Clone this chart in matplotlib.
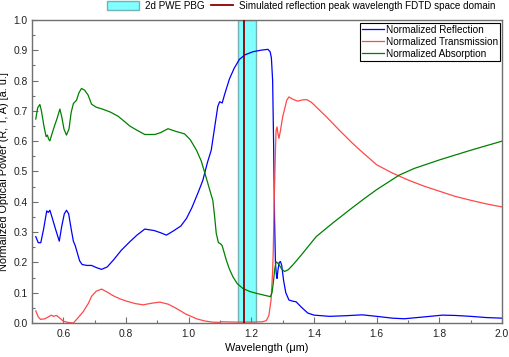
import matplotlib
matplotlib.use("Agg")
import matplotlib.pyplot as plt
from matplotlib.patches import Patch
from matplotlib.lines import Line2D
from matplotlib.legend_handler import HandlerLine2D
from matplotlib.ticker import MultipleLocator

plt.rcParams['font.family'] = ['Liberation Sans', 'DejaVu Sans']

# Reflection
wl_r = [0.512, 0.52, 0.528, 0.537, 0.547, 0.552, 0.557, 0.565, 0.575, 0.587, 0.595, 0.603, 0.61, 0.617,
        0.625, 0.632, 0.638, 0.645, 0.652, 0.66, 0.675, 0.69, 0.705, 0.722, 0.74, 0.76, 0.785, 0.812,
        0.835, 0.86, 0.89, 0.91, 0.929, 0.95, 0.975, 0.993, 1.01, 1.03, 1.045, 1.06, 1.072, 1.085,
        1.093, 1.099, 1.107, 1.115, 1.13, 1.145, 1.162, 1.18, 1.205, 1.23, 1.253, 1.26, 1.264, 1.268,
        1.271, 1.274, 1.277, 1.28, 1.282, 1.285, 1.289, 1.293, 1.297, 1.303, 1.31, 1.32, 1.332, 1.343,
        1.36, 1.38, 1.4, 1.45, 1.5, 1.554, 1.6, 1.65, 1.688, 1.75, 1.81, 1.85, 1.9, 1.95, 2.0]
refl = [0.285, 0.265, 0.265, 0.31, 0.37, 0.365, 0.372, 0.345, 0.31, 0.27, 0.32, 0.36, 0.372, 0.36,
        0.31, 0.27, 0.255, 0.23, 0.205, 0.193, 0.19, 0.19, 0.183, 0.177, 0.185, 0.208, 0.24, 0.268,
        0.29, 0.31, 0.305, 0.298, 0.29, 0.303, 0.32, 0.345, 0.38, 0.43, 0.47, 0.53, 0.57, 0.66,
        0.715, 0.73, 0.726, 0.755, 0.805, 0.84, 0.87, 0.885, 0.895, 0.9, 0.903, 0.895, 0.875, 0.8,
        0.6, 0.35, 0.197, 0.16, 0.147, 0.175, 0.2, 0.203, 0.19, 0.14, 0.1, 0.076, 0.072, 0.07,
        0.052, 0.033, 0.026, 0.022, 0.024, 0.027, 0.022, 0.016, 0.014, 0.02, 0.026, 0.025, 0.022, 0.018, 0.016]

# Transmission
wl_t = [0.512, 0.52, 0.527, 0.541, 0.552, 0.562, 0.568, 0.578, 0.59, 0.6, 0.615, 0.632, 0.645, 0.663,
        0.68, 0.69, 0.705, 0.722, 0.74, 0.759, 0.78, 0.802, 0.83, 0.855, 0.88, 0.908, 0.935, 0.961,
        0.99, 1.025, 1.05, 1.075, 1.1, 1.105, 1.15, 1.2, 1.235, 1.248, 1.256, 1.263, 1.268, 1.27,
        1.273, 1.277, 1.279, 1.282, 1.285, 1.288, 1.293, 1.3, 1.306, 1.313, 1.32, 1.333, 1.348, 1.362,
        1.377, 1.392, 1.407, 1.44, 1.481, 1.52, 1.545, 1.6, 1.65, 1.7, 1.75, 1.8, 1.85, 1.9, 1.95, 2.0]
trans = [0.04, 0.02, 0.012, 0.014, 0.02, 0.026, 0.022, 0.025, 0.015, 0.006, 0.002, 0.0, 0.015, 0.037,
         0.065, 0.088, 0.105, 0.112, 0.102, 0.09, 0.08, 0.072, 0.064, 0.06, 0.065, 0.069, 0.062, 0.048,
         0.03, 0.014, 0.007, 0.003, 0.002, 0.004, 0.003, 0.003, 0.004, 0.008, 0.025, 0.076, 0.17, 0.24,
         0.4, 0.57, 0.635, 0.647, 0.625, 0.609, 0.635, 0.68, 0.705, 0.735, 0.746, 0.738, 0.732, 0.736,
         0.737, 0.728, 0.713, 0.68, 0.636, 0.596, 0.572, 0.522, 0.495, 0.472, 0.452, 0.435, 0.418, 0.405, 0.393, 0.383]

# Absorption
wl_a = [0.512, 0.518, 0.525, 0.53, 0.538, 0.545, 0.549, 0.553, 0.557, 0.564, 0.571, 0.58, 0.589, 0.595,
        0.602, 0.61, 0.618, 0.625, 0.632, 0.642, 0.65, 0.658, 0.668, 0.679, 0.69, 0.705, 0.727, 0.75,
        0.775, 0.795, 0.812, 0.835, 0.86, 0.892, 0.91, 0.934, 0.96, 0.987, 1.005, 1.025, 1.04, 1.051,
        1.067, 1.077, 1.083, 1.088, 1.095, 1.099, 1.103, 1.107, 1.12, 1.13, 1.141, 1.155, 1.173, 1.195,
        1.216, 1.24, 1.261, 1.266, 1.27, 1.275, 1.279, 1.284, 1.29, 1.297, 1.306, 1.318, 1.332, 1.36,
        1.407, 1.46, 1.513, 1.56, 1.6, 1.672, 1.72, 1.8, 1.9, 2.0]
absor = [0.673, 0.71, 0.721, 0.7, 0.65, 0.615, 0.62, 0.607, 0.601, 0.625, 0.648, 0.675, 0.706, 0.68,
         0.64, 0.62, 0.64, 0.695, 0.724, 0.735, 0.76, 0.774, 0.768, 0.752, 0.722, 0.712, 0.705, 0.696,
         0.682, 0.665, 0.65, 0.636, 0.622, 0.622, 0.628, 0.641, 0.632, 0.624, 0.605, 0.57, 0.535, 0.497,
         0.44, 0.405, 0.35, 0.296, 0.265, 0.263, 0.26, 0.255, 0.208, 0.178, 0.153, 0.13, 0.114, 0.104,
         0.098, 0.092, 0.087, 0.1, 0.131, 0.18, 0.202, 0.198, 0.19, 0.178, 0.17, 0.176, 0.191, 0.225,
         0.285, 0.33, 0.373, 0.41, 0.44, 0.488, 0.51, 0.538, 0.57, 0.6]

pbg_band = [1.157, 1.2155]
peak_wl = 1.176


class ShortLineHandler(HandlerLine2D):
    def create_artists(self, legend, orig_handle, xdescent, ydescent, width, height, fontsize, trans):
        s = width * 0.31
        return super().create_artists(legend, orig_handle, xdescent - s, ydescent, width - s,
                                       height, fontsize, trans)


fig = plt.figure(figsize=(5.09, 3.57), dpi=100)
ax = fig.add_axes([0.0629, 0.0952, 0.9233, 0.849])

ax.axvspan(pbg_band[0], pbg_band[1], facecolor=(0.0, 1.0, 1.0, 0.5), edgecolor=(0.45, 0.7, 0.7), lw=1.0, zorder=1)
ax.axvline(peak_wl, color='#8b0000', lw=1.3, zorder=3)

l1, = ax.plot(wl_r, refl, color='#0000ff', lw=0.9, label='Normalized Reflection', zorder=2)
l2, = ax.plot(wl_t, trans, color='#ff4848', lw=0.9, label='Normalized Transmission', zorder=2)
l3, = ax.plot(wl_a, absor, color='#008000', lw=0.9, label='Normalized Absorption', zorder=2)

ax.set_xlim(0.5, 2.0)
ax.set_ylim(0.0, 1.0)
ax.xaxis.set_major_locator(MultipleLocator(0.2))
ax.xaxis.set_minor_locator(MultipleLocator(0.1))
ax.yaxis.set_major_locator(MultipleLocator(0.1))
ax.yaxis.set_minor_locator(MultipleLocator(0.05))
ax.tick_params(which='both', direction='in', color='#707070', labelsize=7.4, labelcolor='#222222')
ax.tick_params(which='major', length=4, width=0.8)
ax.tick_params(which='minor', length=2.5, width=0.8)
ax.tick_params(axis='x', pad=4)
ax.tick_params(axis='y', pad=3)
for s in ax.spines.values():
    s.set_color('#707070')
    s.set_linewidth(1.0)

ax.set_xlabel('Wavelength (\u03bcm)', fontsize=7.8)
ax.set_ylabel('Normalized Optical Power (R, T, A) [a. u.]', fontsize=7.8)
ax.xaxis.set_label_coords(0.5, -0.066)
ax.yaxis.set_label_coords(-0.048, 0.5)

leg = ax.legend(handles=[l1, l2, l3], loc='upper right', bbox_to_anchor=(0.9995, 0.997), fontsize=7.2,
                fancybox=False, framealpha=1, edgecolor='black', borderpad=0.2, labelspacing=0.2,
                handlelength=2.2, handletextpad=0.2, borderaxespad=0.2)
leg.get_frame().set_linewidth(0.8)

peak_handle = Line2D([0], [0], color='#8b0000', lw=1.3,
                     label='Simulated reflection peak wavelength FDTD space domain')
top_handles = [Patch(facecolor=(0.0, 1.0, 1.0, 0.5), edgecolor=(0.45, 0.7, 0.7), label='2d PWE PBG'),
               peak_handle]
fig.legend(handles=top_handles, loc='upper right', bbox_to_anchor=(0.975, 1.0), ncol=2, fontsize=7.1,
           frameon=False, handlelength=3.2, handletextpad=0.6, columnspacing=-0.3, handleheight=0.9,
           borderaxespad=0.0, borderpad=0.1, handler_map={peak_handle: ShortLineHandler()})

fig.savefig('out.png', dpi=100)
